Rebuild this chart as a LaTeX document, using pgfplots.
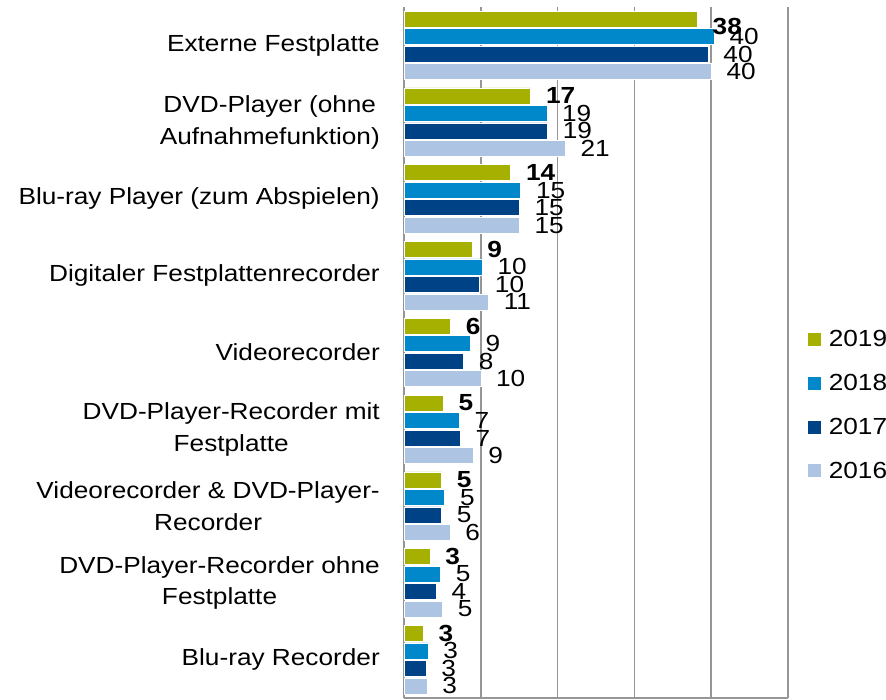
\documentclass[border=0pt]{standalone}
\usepackage{fontspec}
\setmainfont{Liberation Sans}[FakeStretch=1.125]
\usepackage{pgfplots}
\pgfplotsset{compat=1.18}
\usepackage{pgfplotstable}

\definecolor{c2019}{RGB}{165,176,0}
\definecolor{c2018}{RGB}{0,136,202}
\definecolor{c2017}{RGB}{0,66,134}
\definecolor{c2016}{RGB}{173,196,226}
\definecolor{gridgray}{RGB}{150,150,150}

\newcommand\lbl{\fontsize{23.3bp}{31.7bp}\selectfont}
\protected\def\lowr#1{\raisebox{-7bp}[\height][\depth]{#1}}

\pgfplotsset{sq/.style={legend image code/.code={\fill[##1] (0bp,-7bp) rectangle (14bp,7bp);}}}

% y: 8 = Externe Festplatte (top) ... 0 = Blu-ray Recorder (bottom)
\pgfplotstableread{
y v lab
8 38.2 \lowr{38}
7 16.5 17
6 13.9 14
5 8.85 9
4 6.08 6
3 5.12 5
2 4.9 5
1 3.39 3
0 2.52 3
}\tnineteen
\pgfplotstableread{
y v lab
8 40.4 40
7 18.6 19
6 15.2 15
5 10.2 10
4 8.64 9
3 7.2 7
2 5.3 5
1 4.77 5
0 3.12 3
}\teighteen
\pgfplotstableread{
y v lab
8 39.6 40
7 18.7 19
6 15.0 15
5 9.85 10
4 7.77 8
3 7.34 7
2 4.9 5
1 4.2 4
0 2.86 3
}\tseventeen
\pgfplotstableread{
y v lab
8 40.0 40
7 21.0 21
6 15.0 15
5 11.0 11
4 10.0 10
3 8.98 9
2 6.0 6
1 5.03 5
0 3.0 3
}\tsixteen

\begin{document}
\begin{tikzpicture}
\useasboundingbox (0,0) rectangle (886bp,700bp);
\begin{axis}[
  at={(404bp,2bp)}, anchor=south west,
  scale only axis, width=384bp, height=691bp,
  xbar=1.5bp, bar width=16bp,
  xmin=0, xmax=50, ymin=-0.5, ymax=8.5,
  xtick={0,10,20,30,40,50}, xticklabels={},
  xmajorgrids, grid style={draw=gridgray, line width=1.5bp},
  ytick={0,1,2,3,4,5,6,7,8},
  yticklabels={
    {Blu-ray Recorder},
    {DVD-Player-Recorder ohne\\Festplatte},
    {Videorecorder \& DVD-Player-\\Recorder},
    {DVD-Player-Recorder mit\\Festplatte},
    {Videorecorder},
    {Digitaler Festplattenrecorder},
    {Blu-ray Player (zum Abspielen)},
    {DVD-Player (ohne\\Aufnahmefunktion)},
    {Externe Festplatte}},
  yticklabel style={align=center, font=\lbl, inner sep=0pt, xshift=-24bp},
  major tick length=0pt,
  axis x line*=bottom, axis y line*=left,
  axis line style={draw=gridgray, line width=1.5bp, -},
  point meta=explicit symbolic,
  nodes near coords={\pgfplotspointmeta},
  nodes near coords style={anchor=west, inner sep=0pt, xshift=15bp, font=\lbl, text=black},
  reverse legend,
  legend cell align=left,
  legend style={at={(1.0495,0.424)}, anchor=west, draw=none, fill=none,
    inner sep=0pt, row sep=26bp, column sep=7bp, font=\lbl,
    nodes={inner sep=0pt}},
]
\addplot[fill=c2016, draw=white, line width=0.6bp, sq] table[x=v, y=y, meta=lab] {\tsixteen};
\addlegendentry{2016}
\addplot[fill=c2017, draw=white, line width=0.6bp, sq] table[x=v, y=y, meta=lab] {\tseventeen};
\addlegendentry{2017}
\addplot[fill=c2018, draw=white, line width=0.6bp, sq] table[x=v, y=y, meta=lab] {\teighteen};
\addlegendentry{2018}
\addplot[fill=c2019, draw=white, line width=0.6bp, sq,
  nodes near coords style={font=\lbl\bfseries}] table[x=v, y=y, meta=lab] {\tnineteen};
\addlegendentry{2019}
\end{axis}
\end{tikzpicture}
\end{document}
